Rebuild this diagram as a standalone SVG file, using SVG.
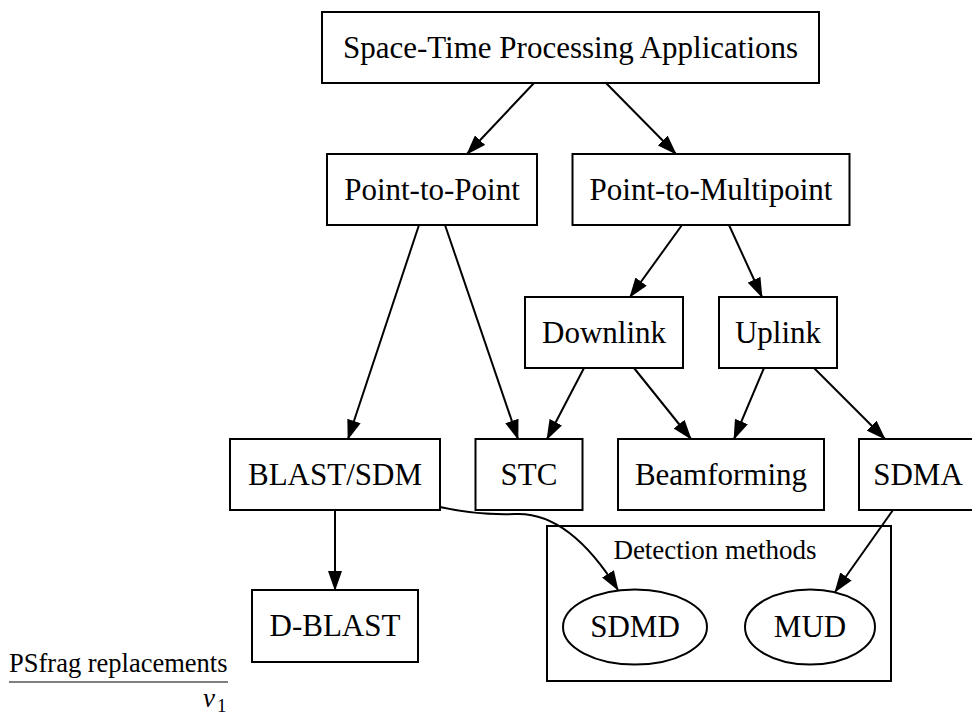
<svg xmlns="http://www.w3.org/2000/svg" width="972" height="716" viewBox="0 0 972 716">
  <style>
    .box { fill: #fff; stroke: #000; stroke-width: 2; }
    .lbl { font-family: "Liberation Serif", "Times New Roman", serif; font-size: 31px; fill: #000; text-anchor: middle; }
    .edge { fill: none; stroke: #000; stroke-width: 2; marker-end: url(#arrow); }
  </style>
  <defs>
    <marker id="arrow" viewBox="0 0 20 14" refX="19" refY="7" markerWidth="20" markerHeight="14" markerUnits="userSpaceOnUse" orient="auto">
      <path d="M0,0 L20,7 L0,14 z" fill="#000"/>
    </marker>
  </defs>
  <rect width="972" height="716" fill="#fff"/>

  <!-- cluster: detection methods -->
  <g id="cluster-detection">
    <rect class="box" x="547" y="526" width="344" height="155" fill="none"/>
    <text class="lbl" x="715" y="559" style="font-size:27px">Detection methods</text>
  </g>

  <g id="connectors">
    <line class="edge" x1="534" y1="83" x2="467" y2="154"/>
    <line class="edge" x1="606" y1="83" x2="676" y2="154"/>
    <line class="edge" x1="419" y1="225" x2="348" y2="439"/>
    <line class="edge" x1="445" y1="225" x2="518" y2="439"/>
    <line class="edge" x1="682" y1="225" x2="630" y2="297"/>
    <line class="edge" x1="729" y1="225" x2="762" y2="297"/>
    <line class="edge" x1="584" y1="368" x2="547" y2="439"/>
    <line class="edge" x1="634" y1="368" x2="691" y2="439"/>
    <line class="edge" x1="764" y1="368" x2="734" y2="439"/>
    <line class="edge" x1="814" y1="368" x2="885" y2="439"/>
    <line class="edge" x1="335" y1="510" x2="335" y2="590"/>
    <path class="edge" d="M440,507 C462,512 485,515 515,514 C555,512 590,545 618,590"/>
    <line class="edge" x1="893" y1="510" x2="835" y2="592"/>
  </g>

  <g id="n-stp">
    <rect class="box" x="322" y="12" width="497" height="71"/>
    <text class="lbl" x="570.5" y="57.5">Space-Time Processing Applications</text>
  </g>
  <g id="n-p2p">
    <rect class="box" x="327" y="154" width="210" height="71"/>
    <text class="lbl" x="432" y="199.5">Point-to-Point</text>
  </g>
  <g id="n-p2m">
    <rect class="box" x="572.5" y="154" width="277" height="71"/>
    <text class="lbl" x="711" y="199.5">Point-to-Multipoint</text>
  </g>
  <g id="n-downlink">
    <rect class="box" x="525" y="297" width="158" height="71"/>
    <text class="lbl" x="604" y="342.5">Downlink</text>
  </g>
  <g id="n-uplink">
    <rect class="box" x="719" y="297" width="118" height="71"/>
    <text class="lbl" x="778" y="342.5">Uplink</text>
  </g>
  <g id="n-blast">
    <rect class="box" x="230" y="439" width="210" height="71"/>
    <text class="lbl" x="335" y="484.5">BLAST/SDM</text>
  </g>
  <g id="n-stc">
    <rect class="box" x="475.5" y="439" width="107" height="71"/>
    <text class="lbl" x="529" y="484.5">STC</text>
  </g>
  <g id="n-beam">
    <rect class="box" x="618" y="439" width="206" height="71"/>
    <text class="lbl" x="721" y="484.5">Beamforming</text>
  </g>
  <g id="n-sdma">
    <rect class="box" x="859" y="439" width="118" height="71"/>
    <text class="lbl" x="918" y="484.5">SDMA</text>
  </g>
  <g id="n-dblast">
    <rect class="box" x="252" y="590" width="166" height="72"/>
    <text class="lbl" x="335" y="636">D-BLAST</text>
  </g>
  <g id="n-sdmd">
    <ellipse class="box" cx="635" cy="627" rx="72" ry="37.5"/>
    <text class="lbl" x="635" y="637">SDMD</text>
  </g>
  <g id="n-mud">
    <ellipse class="box" cx="810" cy="627" rx="65" ry="37.5"/>
    <text class="lbl" x="810" y="637">MUD</text>
  </g>

  <!-- psfrag leftovers -->
  <g id="psfrag">
    <text x="9" y="672" style="font-family:'Liberation Serif','Times New Roman',serif;font-size:26.5px">PSfrag replacements</text>
    <line x1="9" y1="682" x2="228" y2="682" stroke="#000" stroke-width="1.2"/>
    <text x="203" y="707" style="font-family:'Liberation Serif','Times New Roman',serif;font-size:27px;font-style:italic">v</text>
    <text x="217" y="712" style="font-family:'Liberation Serif','Times New Roman',serif;font-size:19px">1</text>
  </g>
</svg>
